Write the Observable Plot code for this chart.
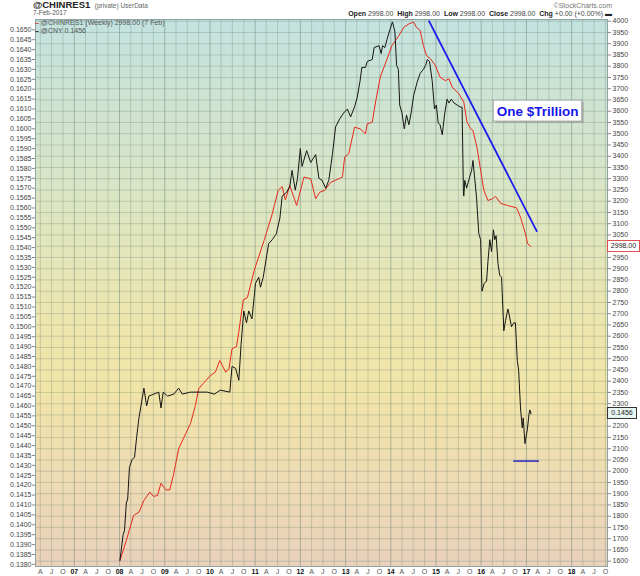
<!DOCTYPE html>
<html><head><meta charset="utf-8">
<script src="https://cdn.jsdelivr.net/npm/d3@7"></script>
<script src="https://cdn.jsdelivr.net/npm/@observablehq/plot@0.6"></script>
<style>
body{margin:0;background:#fff;font-family:"Liberation Sans",Arial,sans-serif;}
#wrap{position:relative;width:640px;height:576px;overflow:hidden;}
#hdr{position:relative;height:18px;width:640px;}
.abs{position:absolute;white-space:nowrap;line-height:1;}
#chart svg{display:block;}
</style></head><body>
<div id="wrap">
  <div id="hdr">
    <div class="abs" style="left:33px;top:0px;font-size:9.5px;font-weight:bold;color:#222;">@CHINRES1 <span style="font-size:6.5px;font-weight:normal;color:#666;">&nbsp;(private) UserData</span></div>
    <div class="abs" style="left:33px;top:10px;font-size:6.5px;color:#555;">7-Feb-2017</div>
    <div class="abs" style="right:28px;top:2px;font-size:7px;color:#777;">©StockCharts.com</div>
    <div class="abs" style="right:28px;top:10px;font-size:7px;color:#444;"><b style="color:#222">Open</b> 2998.00 &nbsp;<b style="color:#222">High</b> 2998.00 &nbsp;<b style="color:#222">Low</b> 2998.00 &nbsp;<b style="color:#222">Close</b> 2998.00 &nbsp;<b style="color:#222">Chg</b> +0.00 (+0.00%) <b style="color:#222">▬</b></div>
  </div>
  <div id="chart"></div>
  <div class="abs" style="left:35px;top:19px;font-size:7px;color:#555;"><span style="color:#e8281c;font-weight:bold">–</span> @CHINRES1 (Weekly) 2998.00 (7 Feb)</div>
  <div class="abs" style="left:35px;top:27px;font-size:7px;color:#555;"><span style="color:#111;font-weight:bold">–</span> @CNY 0.1456</div>
  <div id="boxRes" class="abs" style="left:607px;width:31px;height:10px;font-size:7px;color:#222;background:#fff;border:1px solid #e05050;text-align:center;line-height:10px;">2998.00</div>
  <div id="boxCny" class="abs" style="left:607px;width:28px;height:10px;font-size:7px;color:#222;background:#e6f4f4;border:1px solid #333;text-align:center;line-height:10px;">0.1456</div>
</div>
<script>
// ---- Data: China FX reserves (@CHINRES1, right axis, USD bn) ----
const resDates = ["2008-01-04","2008-02-25","2008-04-23","2008-06-06","2008-07-16","2008-09-02","2008-10-01","2008-11-03","2008-12-01","2009-01-08","2009-02-10","2009-03-14","2009-04-23","2009-06-18","2009-07-27","2009-09-05","2009-10-01","2009-11-06","2010-01-04","2010-02-13","2010-03-21","2010-05-08","2010-06-03","2010-06-28","2010-08-03","2010-08-22","2010-09-27","2010-10-30","2010-12-24","2011-03-14","2011-05-19","2011-07-06","2011-08-07","2011-09-02","2011-10-08","2011-12-02","2012-01-30","2012-03-25","2012-05-04","2012-06-06","2012-07-16","2012-09-02","2012-12-06","2012-12-24","2013-01-26","2013-03-14","2013-04-27","2013-06-10","2013-06-25","2013-08-04","2013-09-02","2013-10-08","2013-11-22","2014-01-11","2014-03-07","2014-04-16","2014-05-27","2014-07-05","2014-07-27","2014-08-26","2014-09-21","2014-10-16","2014-11-17","2014-12-28","2015-02-03","2015-03-18","2015-04-16","2015-05-12","2015-07-06","2015-08-14","2015-09-09","2015-10-08","2015-10-27","2015-11-28","2015-12-24","2016-01-23","2016-02-25","2016-04-01","2016-04-27","2016-06-06","2016-07-31","2016-10-12","2016-11-14","2016-12-24","2017-01-11","2017-02-07"];
const resValues = [1603,1692,1803,1818,1870,1907,1888,1892,1947,1917,1917,1989,2100,2166,2211,2292,2366,2389,2425,2440,2492,2440,2455,2544,2554,2620,2762,2771,2892,3025,3144,3248,3265,3206,3270,3181,3307,3300,3211,3240,3248,3284,3307,3396,3411,3529,3522,3500,3544,3551,3648,3751,3818,3892,3936,3973,3988,3996,3973,3959,3892,3848,3833,3803,3751,3736,3744,3707,3677,3640,3551,3522,3514,3440,3351,3248,3203,3211,3221,3191,3181,3171,3129,3055,3011,2998];

// ---- Data: CNY in USD (@CNY, left axis) ----
const cnyDates = ["2008-01-04","2008-01-30","2008-02-10","2008-02-25","2008-03-07","2008-03-21","2008-04-12","2008-05-01","2008-05-18","2008-06-06","2008-07-16","2008-08-07","2008-08-25","2008-10-04","2008-11-13","2008-12-01","2008-12-19","2009-01-23","2009-03-14","2009-04-23","2009-05-22","2009-07-27","2009-10-15","2009-12-09","2010-02-06","2010-03-25","2010-06-10","2010-06-28","2010-07-27","2010-08-22","2010-09-09","2010-10-01","2010-10-23","2010-11-10","2010-12-06","2011-01-04","2011-01-30","2011-02-13","2011-03-07","2011-04-20","2011-05-19","2011-06-21","2011-07-20","2011-08-07","2011-09-13","2011-10-08","2011-10-26","2011-11-21","2011-12-09","2012-01-01","2012-01-15","2012-02-21","2012-03-25","2012-05-04","2012-05-30","2012-06-24","2012-07-24","2012-08-18","2012-09-16","2012-10-12","2012-11-14","2012-12-16","2013-01-15","2013-02-10","2013-03-14","2013-04-05","2013-04-27","2013-05-12","2013-06-10","2013-06-25","2013-08-04","2013-08-19","2013-09-28","2013-10-15","2013-10-27","2013-11-14","2013-12-01","2013-12-24","2014-01-15","2014-02-03","2014-02-17","2014-03-03","2014-03-14","2014-04-01","2014-04-20","2014-05-08","2014-05-27","2014-06-14","2014-07-05","2014-08-04","2014-08-26","2014-09-21","2014-10-09","2014-10-23","2014-11-10","2014-12-02","2014-12-20","2015-01-04","2015-01-19","2015-02-03","2015-02-21","2015-03-11","2015-04-01","2015-04-16","2015-05-05","2015-05-27","2015-06-21","2015-07-16","2015-07-31","2015-08-11","2015-08-14","2015-08-22","2015-09-06","2015-09-27","2015-10-16","2015-10-27","2015-11-10","2015-11-25","2015-12-13","2015-12-28","2016-01-08","2016-01-26","2016-02-14","2016-02-25","2016-03-11","2016-03-25","2016-04-09","2016-04-20","2016-05-01","2016-05-16","2016-05-30","2016-06-14","2016-07-02","2016-07-16","2016-08-04","2016-08-15","2016-09-02","2016-09-20","2016-10-04","2016-10-19","2016-10-30","2016-11-14","2016-11-28","2016-12-06","2016-12-20","2017-01-08","2017-01-22","2017-01-29","2017-02-07"];
const cnyValues = [0.1382,0.1395,0.1397,0.1411,0.1413,0.1429,0.1433,0.1434,0.1444,0.1454,0.1469,0.1460,0.1465,0.1466,0.1467,0.1459,0.1467,0.1465,0.1466,0.1469,0.1466,0.1467,0.1467,0.1467,0.1466,0.1468,0.1467,0.1480,0.1479,0.1473,0.1491,0.1508,0.1502,0.1508,0.1504,0.1522,0.1525,0.1520,0.1525,0.1542,0.1544,0.1547,0.1555,0.1566,0.1568,0.1571,0.1579,0.1569,0.1575,0.1590,0.1581,0.1589,0.1583,0.1587,0.1575,0.1574,0.1570,0.1574,0.1587,0.1601,0.1605,0.1608,0.1610,0.1606,0.1611,0.1616,0.1624,0.1631,0.1631,0.1634,0.1635,0.1641,0.1642,0.1638,0.1642,0.1641,0.1645,0.1650,0.1654,0.1649,0.1632,0.1630,0.1612,0.1608,0.1600,0.1607,0.1602,0.1608,0.1617,0.1624,0.1628,0.1630,0.1632,0.1635,0.1634,0.1624,0.1610,0.1612,0.1603,0.1602,0.1597,0.1607,0.1615,0.1613,0.1615,0.1613,0.1612,0.1611,0.1611,0.1567,0.1566,0.1574,0.1570,0.1575,0.1579,0.1584,0.1575,0.1565,0.1547,0.1544,0.1518,0.1522,0.1523,0.1533,0.1544,0.1538,0.1549,0.1544,0.1546,0.1532,0.1526,0.1525,0.1498,0.1503,0.1509,0.1506,0.1500,0.1502,0.1502,0.1483,0.1478,0.1459,0.1449,0.1454,0.1441,0.1448,0.1456,0.1458,0.1456];

// ---- Annotations ----
const trendDates = ["2014-11-06","2017-03-25"];
const trendValues = [4000,3067];
const floorStart = "2016-09-20", floorEnd = "2017-04-16", floorValue = 2045;
const noteText = "One $Trillion";
const noteDate = "2017-04-01", noteValue = 3600;
const noteBox = {x1:"2016-04-12", x2:"2018-03-28", y1:3554, y2:3647};

// ---- Tick labels ----
const quarterLetters = {3:"A", 6:"J", 9:"O"};
const yearLabels = ["07","08","09","10","11","12","13","14","15","16","17","18"];
const rightTicks = d3.range(1600, 4001, 50);
const rightHidden = [3000, 2250]; // covered by the last-value boxes
const leftTicks = d3.range(0, 55).map(i => +(0.1380 + i*0.0005).toFixed(4));

// left axis (CNY) mapped into right-axis units
const L0 = 0.1380, L1 = 0.1650, R0 = 1585.8, R1 = 3961.8;
const toR = l => R0 + (l - L0) / (L1 - L0) * (R1 - R0);
const toL = r => L0 + (r - R0) / (R1 - R0) * (L1 - L0);

const res = resDates.map((d, i) => ({date: new Date(d), value: resValues[i]}));
const cny = cnyDates.map((d, i) => ({date: new Date(d), value: cnyValues[i]}));
const trend = trendDates.map((d, i) => ({date: new Date(d), value: trendValues[i]}));
const floor = [{x1: new Date(floorStart), x2: new Date(floorEnd), y: floorValue}];
const note = [{date: new Date(noteDate), value: noteValue, text: noteText}];
const box = [{x1: new Date(noteBox.x1), x2: new Date(noteBox.x2), y1: noteBox.y1, y2: noteBox.y2}];

const allQuarters = d3.utcMonth.every(3).range(new Date("2006-04-01"), new Date("2018-10-02"));
const monthTicks = allQuarters.filter(d => d.getUTCMonth() !== 0);
const yearTicks = yearLabels.map(y => new Date(`20${y}-01-01`));

const gridColor = "#5f7a6c";
const plot = Plot.plot({
  width: 640, height: 558,
  marginLeft: 35, marginRight: 33, marginTop: 1, marginBottom: 10,
  style: {fontFamily: "Liberation Sans, Arial, sans-serif", fontSize: "7px", background: "transparent", overflow: "visible"},
  x: {type: "utc", domain: [new Date("2006-02-21"), new Date("2018-10-18")], label: null},
  y: {domain: [1576.4, 4007.6], label: null},
  marks: [
    Plot.frame({fill: "url(#bgGrad)"}),
    Plot.gridX(monthTicks, {stroke: gridColor, strokeOpacity: 0.27}),
    Plot.gridX(yearTicks, {stroke: gridColor, strokeOpacity: 0.45}),
    Plot.gridY(rightTicks, {stroke: gridColor, strokeOpacity: 0.27}),
    Plot.axisY(rightTicks, {anchor: "right", tickSize: 3, tickPadding: 2, fill: "#444", stroke: "#888", tickFormat: d => rightHidden.includes(d) ? "" : d.toFixed(0), label: null}),
    Plot.axisY(leftTicks.map(toR), {anchor: "left", tickSize: 3, tickPadding: 1, fill: "#444", stroke: "#888", tickFormat: r => toL(r).toFixed(4), label: null}),
    Plot.axisX(monthTicks, {anchor: "bottom", tickSize: 0, tickPadding: 3, fill: "#555", tickFormat: d => quarterLetters[d.getUTCMonth()], label: null}),
    Plot.axisX(yearTicks, {anchor: "bottom", tickSize: 0, tickPadding: 3, fill: "#111", fontWeight: "bold", tickFormat: d => yearLabels[d.getUTCFullYear() - 2007], label: null}),
    Plot.line(res, {x: "date", y: "value", stroke: "#e8281c", strokeWidth: 1}),
    Plot.line(cny, {x: "date", y: d => toR(d.value), stroke: "#151515", strokeWidth: 1}),
    Plot.line(trend, {x: "date", y: "value", stroke: "#1b1bef", strokeWidth: 1.8}),
    Plot.ruleY(floor, {y: "y", x1: "x1", x2: "x2", stroke: "#1b1bc0", strokeWidth: 1.4}),
    Plot.rect(box, {x1: "x1", x2: "x2", y1: "y1", y2: "y2", fill: "#8a8a8a", fillOpacity: 0.45, dx: 2, dy: 2}),
    Plot.rect(box, {x1: "x1", x2: "x2", y1: "y1", y2: "y2", fill: "#ffffff", stroke: "#9a9a9a", strokeWidth: 0.8}),
    Plot.text(note, {x: "date", y: "value", text: "text", fill: "#1515e8", fontSize: 13.5, fontWeight: "bold"}),
    Plot.frame({stroke: "#8fa3a3", strokeWidth: 1})
  ]
});

const defs = d3.select(plot).insert("defs", ":first-child");
const grad = defs.append("linearGradient").attr("id", "bgGrad").attr("x1", 0).attr("y1", 0).attr("x2", 0).attr("y2", 1);
[[0, "#c3e2df"], [0.3, "#d9e5c6"], [0.55, "#ede6ae"], [0.68, "#f1e4a8"], [0.85, "#eedbb4"], [1, "#e9d1bb"]]
  .forEach(([o, c]) => grad.append("stop").attr("offset", o).attr("stop-color", c));

document.getElementById("chart").appendChild(plot);

const ys = plot.scale("y");
const svgTop = 18;
document.getElementById("boxRes").style.top = (svgTop + ys.apply(resValues[resValues.length - 1]) - 6) + "px";
document.getElementById("boxCny").style.top = (svgTop + ys.apply(toR(cnyValues[cnyValues.length - 1])) - 6) + "px";
</script>
</body></html>
